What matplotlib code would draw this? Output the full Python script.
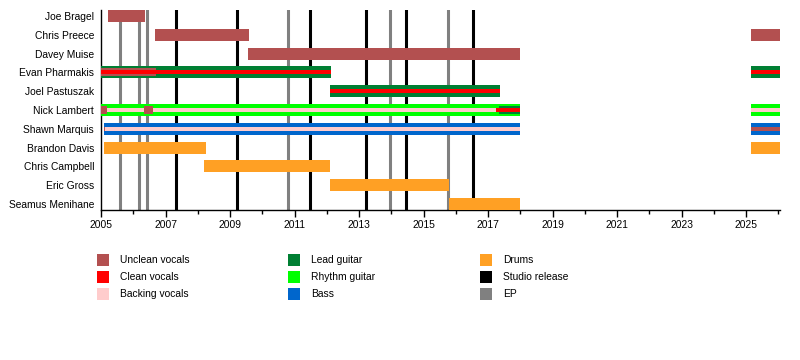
import matplotlib
matplotlib.use("Agg")
import matplotlib.pyplot as plt
from matplotlib.patches import Rectangle

plt.rcParams['font.family'] = ['Liberation Sans', 'DejaVu Sans']

# 成员 (从上到下)
members = ["Joe Bragel", "Chris Preece", "Davey Muise", "Evan Pharmakis",
           "Joel Pastuszak", "Nick Lambert", "Shawn Marquis", "Brandon Davis",
           "Chris Campbell", "Eric Gross", "Seamus Menihane"]

END = 2026.05

# 乐器 (整行高度)
lead_guitar = [("Evan Pharmakis", 2005.0, 2012.12), ("Joel Pastuszak", 2012.09, 2017.38),
               ("Evan Pharmakis", 2025.15, END)]
rhythm_guitar = [("Nick Lambert", 2005.0, 2018.0), ("Nick Lambert", 2025.15, END)]
bass = [("Shawn Marquis", 2005.08, 2018.0), ("Shawn Marquis", 2025.15, END)]
drums = [("Brandon Davis", 2005.08, 2008.25), ("Chris Campbell", 2008.2, 2012.1),
         ("Eric Gross", 2012.1, 2015.8), ("Seamus Menihane", 2015.78, 2018.0),
         ("Brandon Davis", 2025.15, END)]
unclean = [("Joe Bragel", 2005.21, 2006.35), ("Chris Preece", 2006.67, 2009.58),
           ("Davey Muise", 2009.55, 2018.0), ("Chris Preece", 2025.15, END)]

# 次要角色 (细条)
lead_guitar_2nd = [("Nick Lambert", 2017.33, 2018.0)]
unclean_2nd = [("Evan Pharmakis", 2005.0, 2006.7), ("Nick Lambert", 2005.0, 2005.18),
               ("Nick Lambert", 2006.32, 2006.6)]
backing = [("Nick Lambert", 2005.0, 2018.0), ("Shawn Marquis", 2005.1, 2018.0),
           ("Nick Lambert", 2025.15, END)]
unclean_3rd = [("Shawn Marquis", 2005.08, 2005.13), ("Shawn Marquis", 2025.15, END)]
clean = [("Evan Pharmakis", 2005.0, 2012.12), ("Joel Pastuszak", 2012.09, 2017.38),
         ("Nick Lambert", 2017.24, 2018.0), ("Evan Pharmakis", 2025.15, END)]

# 发行
studio = [2007.33, 2009.22, 2011.47, 2013.22, 2014.46, 2016.53]
ep = [2005.59, 2006.18, 2006.43, 2010.8, 2013.96, 2015.76]

C = {
    "Unclean vocals": "#b35050",
    "Clean vocals": "#ff0000",
    "Backing vocals": "#ffcccc",
    "Lead guitar": "#007f33",
    "Rhythm guitar": "#00ff00",
    "Bass": "#0066cc",
    "Drums": "#ffa024",
    "Studio release": "#000000",
    "EP": "#808080",
}

FS = 7.4

fig = plt.figure(figsize=(8, 3.6), dpi=100)
ax = fig.add_axes([0.12625, 0.4167, 0.975 - 0.12625, 0.9722 - 0.4167])

row = {m: i for i, m in enumerate(members)}


def bars(data, color, h, z):
    for m, s, e in data:
        ax.barh(row[m], e - s, left=s, height=h, color=color, linewidth=0, zorder=z)


bars(lead_guitar, C["Lead guitar"], 0.64, 3)
bars(rhythm_guitar, C["Rhythm guitar"], 0.64, 3)
bars(bass, C["Bass"], 0.64, 3)
bars(drums, C["Drums"], 0.64, 3)
bars(unclean, C["Unclean vocals"], 0.64, 3)
bars(backing, C["Backing vocals"], 0.21, 4)
bars(lead_guitar_2nd, C["Lead guitar"], 0.42, 5)
bars(unclean_2nd, C["Unclean vocals"], 0.42, 5)
bars(unclean_3rd, C["Unclean vocals"], 0.21, 5)
bars(clean, C["Clean vocals"], 0.21, 6)

for x in studio:
    ax.axvline(x, color=C["Studio release"], lw=2.2, zorder=1)
for x in ep:
    ax.axvline(x, color=C["EP"], lw=2.2, zorder=1)

ax.set_xlim(2005, END)
ax.set_ylim(len(members) - 0.68, -0.32)
ax.set_yticks(range(len(members)))
ax.set_yticklabels(members)
ax.set_xticks(range(2005, 2026, 2))
ax.set_xticks(range(2005, 2027), minor=True)
ax.tick_params(axis="y", length=0, pad=5, labelsize=FS)
ax.tick_params(axis="x", which="major", length=5, width=1, labelsize=FS, pad=2)
ax.tick_params(axis="x", which="minor", length=3, width=1)
for s in ["top", "right"]:
    ax.spines[s].set_visible(False)
for s in ["left", "bottom"]:
    ax.spines[s].set_linewidth(1)

# 图例
legend_cols = [["Unclean vocals", "Clean vocals", "Backing vocals"],
               ["Lead guitar", "Rhythm guitar", "Bass"],
               ["Drums", "Studio release", "EP"]]
col_x = [97, 288, 480]
row_y = [260, 277, 294]
for ci, col in enumerate(legend_cols):
    for ri, name in enumerate(col):
        x0 = col_x[ci] / 800
        y0 = 1 - (row_y[ri] + 6) / 360
        fig.add_artist(Rectangle((x0, y0), 12 / 800, 12 / 360,
                                 transform=fig.transFigure, color=C[name], lw=0))
        fig.text((col_x[ci] + 23) / 800, 1 - row_y[ri] / 360, name,
                 fontsize=FS, va="center", ha="left")

fig.savefig("out.png", dpi=100)
